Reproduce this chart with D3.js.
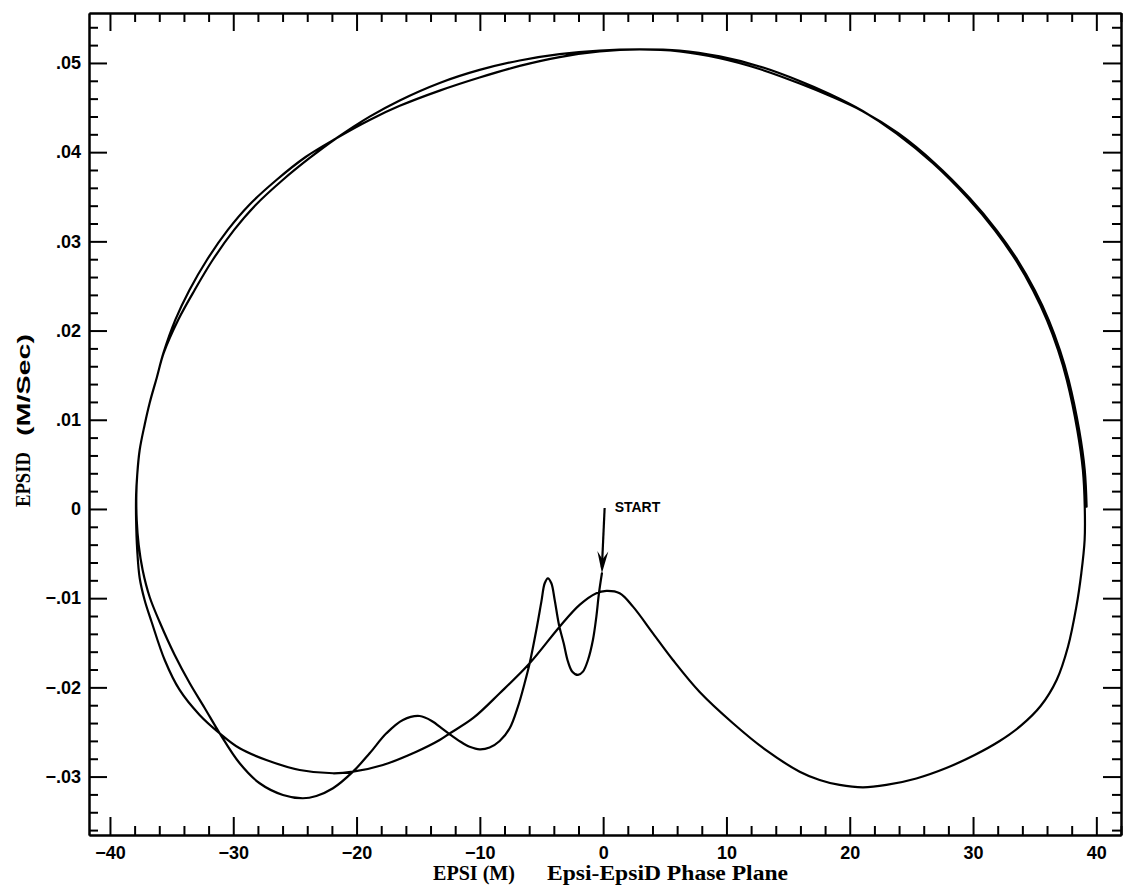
<!DOCTYPE html>
<html>
<head>
<meta charset="utf-8">
<script src="https://cdn.jsdelivr.net/npm/d3@7"></script>
<style>
  html, body { margin: 0; padding: 0; background: #fff; }
  svg { display: block; }
</style>
</head>
<body>
<svg id="chart" width="1128" height="886"></svg>
<script>
// ---- Data ----
// Trajectory in the Epsi / EpsiD phase plane, in drawing order
const epsi = [
  // first pass: start, oscillations, lower-left
  -0.10, -0.34, -0.55, -0.83, -1.23, -1.64, -2.04, -2.50, -2.85, -3.20,
  -3.58, -3.93, -4.20, -4.48, -4.74, -5.01, -5.42, -5.96, -6.37, -6.91,
  -7.58, -8.39, -9.21, -10.02, -10.83, -11.37, -12.18, -13.26, -13.80, -14.88,
  -16.24, -17.58, -18.94, -20.29, -21.91, -23.26, -24.35, -25.97, -27.86, -29.48,
  -31.10, -32.32, -33.54, -34.75, -35.97, -36.78, -37.35, -37.67, -37.83,
  // left side
  -37.86, -37.79, -37.59, -37.19, -36.78, -36.21, -35.64,
  // upper-left (inner)
  -34.47, -33.13, -31.67, -29.93, -28.18, -25.99, -23.80, -21.64,
  // top (outer)
  -18.94, -16.50, -13.26, -10.02, -6.77, -3.53, -0.28, 2.96, 6.20, 9.45, 12.69, 15.94, 18.37,
  // right side
  21.05, 23.78, 26.75, 29.59, 31.77, 33.47, 34.86, 36.00, 36.90, 37.61, 38.46, 38.91, 39.06,
  // lower right, central hump, lower-left
  39.05, 38.78, 38.38, 37.70, 36.78, 35.48, 33.86, 32.16, 30.13, 27.83, 25.40, 22.97,
  21.07, 19.18, 17.56, 15.94, 13.24, 10.53, 7.83,
  5.66, 4.04, 2.42, 1.34, 0.26, -0.55, -1.91, -3.53, -5.96, -8.39, -10.56, -12.45,
  -13.26, -15.15, -17.86, -20.29, -21.91, -24.61, -27.32, -29.48, -31.10, -32.73,
  -34.35, -35.56, -36.62, -37.19, -37.59, -37.79, -37.88,
  // left side (second pass)
  -37.88, -37.79, -37.59, -37.19, -36.78, -36.21, -35.66,
  // upper-left (outer)
  -34.70, -33.55, -32.14, -30.44, -28.71, -26.50, -24.13, -21.64,
  // top (inner)
  -18.94, -16.50, -13.26, -10.02, -6.77, -3.53, -0.28, 2.96, 6.20, 9.45, 12.69, 15.94, 18.37, 21.05,
  // right side (second pass)
  23.93, 26.90, 29.74, 31.92, 33.62, 35.01, 36.15, 37.05, 37.76, 38.61, 39.06, 39.21
];
const epsid = [
  -0.00721, -0.00945, -0.01207, -0.01469, -0.01693, -0.01824, -0.01861, -0.01824, -0.01712, -0.01506,
  -0.01300, -0.01020, -0.00833, -0.00777, -0.00833, -0.01039, -0.01357, -0.01730, -0.01954, -0.02216,
  -0.02459, -0.02601, -0.02674, -0.02694, -0.02665, -0.02627, -0.02553, -0.02441, -0.02385, -0.02321,
  -0.02365, -0.02515, -0.02739, -0.02945, -0.03131, -0.03217, -0.03243, -0.03206, -0.03075, -0.02851,
  -0.02515, -0.02231, -0.01951, -0.01637, -0.01267, -0.00987, -0.00684, -0.00404, -0.00123,
  0.00157, 0.00381, 0.00661, 0.00942, 0.01188, 0.01469, 0.01749,
  0.02119, 0.02455, 0.02791, 0.03128, 0.03408, 0.03688, 0.03935, 0.04156,
  0.04398, 0.04580, 0.04776, 0.04922, 0.05028, 0.05099, 0.05139, 0.05152, 0.05139, 0.05073, 0.04961, 0.04798, 0.04652,
  0.04462, 0.04212, 0.03876, 0.03483, 0.03124, 0.02788, 0.02452, 0.02115, 0.01779, 0.01443, 0.00882, 0.00434, 0.00026,
  -0.00348, -0.00721, -0.01095, -0.01544, -0.01917, -0.02209, -0.02432, -0.02601, -0.02758, -0.02904, -0.03021, -0.03094,
  -0.03120, -0.03094, -0.03038, -0.02945, -0.02707, -0.02402, -0.02052,
  -0.01693, -0.01394, -0.01095, -0.00945, -0.00919, -0.00945, -0.01076, -0.01320, -0.01730, -0.02066, -0.02346, -0.02517,
  -0.02590, -0.02721, -0.02870, -0.02945, -0.02963, -0.02926, -0.02814, -0.02683, -0.02515, -0.02309,
  -0.02029, -0.01693, -0.01267, -0.01020, -0.00774, -0.00460, -0.00123,
  0.00157, 0.00381, 0.00661, 0.00942, 0.01188, 0.01469, 0.01749,
  0.02119, 0.02455, 0.02791, 0.03128, 0.03408, 0.03688, 0.03946, 0.04156,
  0.04361, 0.04519, 0.04690, 0.04837, 0.04967, 0.05066, 0.05129, 0.05151, 0.05129, 0.05053, 0.04932, 0.04770, 0.04632, 0.04459,
  0.04212, 0.03876, 0.03483, 0.03124, 0.02788, 0.02452, 0.02115, 0.01779, 0.01443, 0.00882, 0.00434, 0.00026
];

// Start marker (arrow from label down to the trajectory start)
const arrowFrom = [0.12, 0.0001];
const arrowTo = [-0.10, -0.0072];
const startLabel = "START";

// Axis ticks and labels
const xTickValues = [-40, -30, -20, -10, 0, 10, 20, 30, 40];
const xTickLabels = ["\u221240", "\u221230", "\u221220", "\u221210", "0", "10", "20", "30", "40"];
const yTickValues = [-0.03, -0.02, -0.01, 0, 0.01, 0.02, 0.03, 0.04, 0.05];
const yTickLabels = ["\u2212.03", "\u2212.02", "\u2212.01", "0", ".01", ".02", ".03", ".04", ".05"];
const xMinorStep = 2;
const yMinorStep = 0.002;

const xTitleA = "EPSI (M)";
const xTitleB = "Epsi-EpsiD Phase Plane";
const yTitleA = "EPSID";
const yTitleB = "(M/Sec)";

// ---- Layout ----
const svg = d3.select("#chart");
const L = 89, R = 1121, T = 13, B = 835;

const x = d3.scaleLinear().domain([-41.7, 42]).range([L, R]);
const y = d3.scaleLinear().domain([-0.03655, 0.0556]).range([B, T]);

const xMinor = d3.range(-20, 22).map(i => i * xMinorStep).filter(v => v % 10 !== 0);
const yMinor = d3.range(-18, 28).map(i => +(i * yMinorStep).toFixed(4))
  .filter(v => Math.abs(Math.round(v * 100) - v * 100) > 1e-6);

const sansFont = "'Liberation Sans', Arial, Helvetica, sans-serif";
const serifFont = "'Liberation Serif', 'Times New Roman', serif";

function styleAxis(g) {
  g.select(".domain").attr("stroke", "#000").attr("stroke-width", 2);
  g.selectAll(".tick line").attr("stroke", "#000").attr("stroke-width", 2);
  g.selectAll("text").attr("fill", "#000")
    .style("font-family", sansFont).style("font-weight", "bold").style("font-size", "18px");
}

// bottom
svg.append("g").attr("transform", `translate(0,${B})`)
  .call(d3.axisBottom(x).tickValues(xMinor).tickSize(-9).tickSizeOuter(0).tickFormat(""))
  .call(styleAxis);
svg.append("g").attr("transform", `translate(0,${B})`)
  .call(d3.axisBottom(x).tickValues(xTickValues).tickSize(-18).tickSizeOuter(0).tickPadding(11)
    .tickFormat((d, i) => xTickLabels[i]))
  .call(styleAxis);
// top
svg.append("g").attr("transform", `translate(0,${T})`)
  .call(d3.axisTop(x).tickValues(xMinor).tickSize(-9).tickSizeOuter(0).tickFormat(""))
  .call(styleAxis);
svg.append("g").attr("transform", `translate(0,${T})`)
  .call(d3.axisTop(x).tickValues(xTickValues).tickSize(-18).tickSizeOuter(0).tickFormat(""))
  .call(styleAxis);
// left
svg.append("g").attr("transform", `translate(${L},0)`)
  .call(d3.axisLeft(y).tickValues(yMinor).tickSize(-9).tickSizeOuter(0).tickFormat(""))
  .call(styleAxis);
svg.append("g").attr("transform", `translate(${L},0)`)
  .call(d3.axisLeft(y).tickValues(yTickValues).tickSize(-18).tickSizeOuter(0).tickPadding(8)
    .tickFormat((d, i) => yTickLabels[i]))
  .call(styleAxis);
// right
svg.append("g").attr("transform", `translate(${R},0)`)
  .call(d3.axisRight(y).tickValues(yMinor).tickSize(-9).tickSizeOuter(0).tickFormat(""))
  .call(styleAxis);
svg.append("g").attr("transform", `translate(${R},0)`)
  .call(d3.axisRight(y).tickValues(yTickValues).tickSize(-18).tickSizeOuter(0).tickFormat(""))
  .call(styleAxis);

// ---- Trajectory ----
const idx = d3.range(Math.min(epsi.length, epsid.length));
const line = d3.line()
  .x(i => x(epsi[i]))
  .y(i => y(epsid[i]))
  .curve(d3.curveCatmullRom.alpha(0.5));

svg.append("path")
  .attr("d", line(idx))
  .attr("fill", "none")
  .attr("stroke", "#000")
  .attr("stroke-width", 2.2)
  .attr("stroke-linejoin", "round")
  .attr("stroke-linecap", "round");

// ---- START arrow ----
const ax0 = x(arrowFrom[0]), ay0 = y(arrowFrom[1]);
const ax1 = x(arrowTo[0]), ay1 = y(arrowTo[1]);
svg.append("line")
  .attr("x1", ax0).attr("y1", ay0).attr("x2", ax1).attr("y2", ay1 - 6)
  .attr("stroke", "#000").attr("stroke-width", 2.2);
{
  const dx = ax1 - ax0, dy = ay1 - ay0, len = Math.hypot(dx, dy);
  const ux = dx / len, uy = dy / len, px = -uy, py = ux;
  const hl = 22, hw = 5.5, notch = 14;
  const pts = [
    [ax1, ay1],
    [ax1 - ux * hl + px * hw, ay1 - uy * hl + py * hw],
    [ax1 - ux * notch, ay1 - uy * notch],
    [ax1 - ux * hl - px * hw, ay1 - uy * hl - py * hw]
  ];
  svg.append("polygon").attr("points", pts.map(p => p.join(",")).join(" ")).attr("fill", "#000");
}
svg.append("text")
  .attr("x", ax0 + 10).attr("y", ay0 + 4)
  .style("font-family", sansFont).style("font-weight", "bold").style("font-size", "14px")
  .text(startLabel);

// ---- Titles ----
svg.append("text")
  .attr("x", 433).attr("y", 880)
  .attr("textLength", 82).attr("lengthAdjust", "spacingAndGlyphs")
  .style("font-family", serifFont).style("font-weight", "bold").style("font-size", "20px")
  .text(xTitleA);
svg.append("text")
  .attr("x", 547).attr("y", 880)
  .attr("textLength", 241).attr("lengthAdjust", "spacingAndGlyphs")
  .style("font-family", serifFont).style("font-weight", "bold").style("font-size", "20px")
  .text(xTitleB);

svg.append("text")
  .attr("transform", "translate(30,507) rotate(-90)")
  .attr("textLength", 55).attr("lengthAdjust", "spacingAndGlyphs")
  .style("font-family", serifFont).style("font-weight", "bold").style("font-size", "20px")
  .text(yTitleA);
svg.append("text")
  .attr("transform", "translate(30,436) rotate(-90)")
  .attr("textLength", 102).attr("lengthAdjust", "spacingAndGlyphs")
  .style("font-family", sansFont).style("font-weight", "bold").style("font-size", "19px")
  .text(yTitleB);
</script>
</body>
</html>
